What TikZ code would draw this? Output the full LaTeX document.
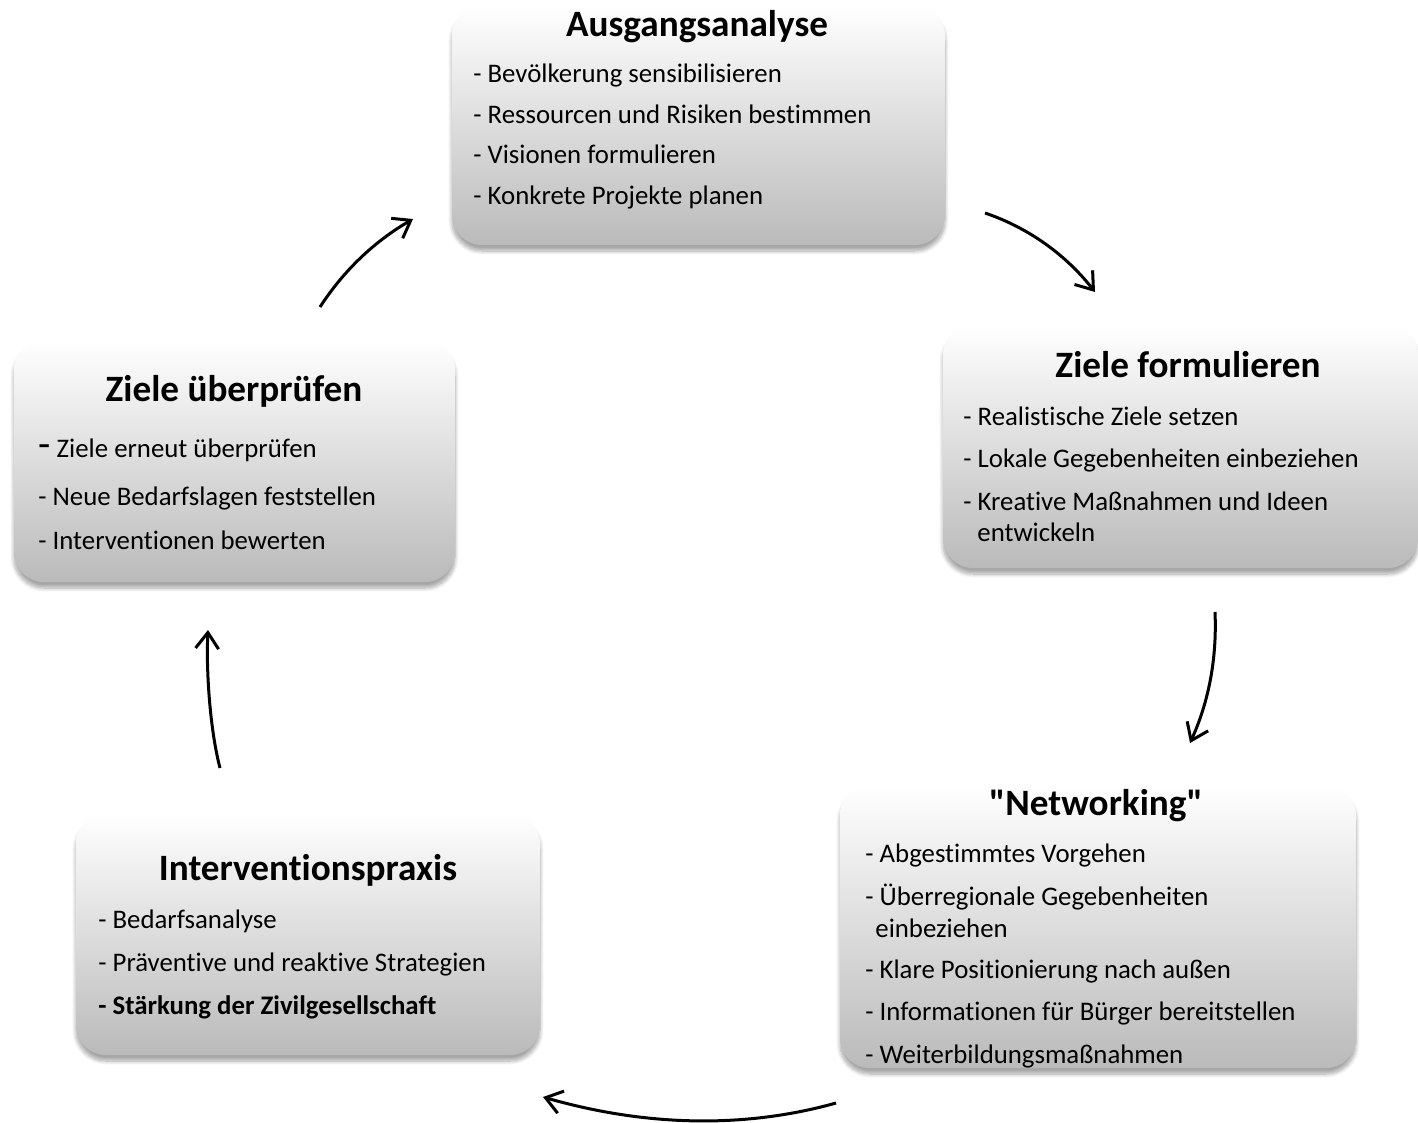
\documentclass[tikz,border=0pt]{standalone}
\usepackage{fontspec}
\setmainfont{Carlito}[Ligatures={TeX,NoCommon}]
\usetikzlibrary{arrows.meta,shadows.blur}

\begin{document}
\begin{tikzpicture}[x=0.5pt,y=-0.5pt,
  phase/.style={rounded corners=15pt,top color=white,bottom color=black!27,
    inner sep=0pt,blur shadow={shadow xshift=0pt,shadow yshift=-3pt,shadow blur steps=8,shadow opacity=35}},
  phasetitle/.style={anchor=base,inner sep=0pt,font=\fontsize{18.6}{22}\selectfont\bfseries},
  entry/.style={anchor=base west,inner sep=0pt,font=\fontsize{13.4}{16}\selectfont},
  cyclearrow/.style={line width=1.5pt,-{Straight Barb[length=8pt,width=11.5pt,line width=1.5pt]}}]
\useasboundingbox (0,0) rectangle (1418,1123);
% boxes
\node[phase,minimum width=246.5pt,minimum height=120pt] (aus) at (698.5,125) {};
\node[phase,minimum width=237.5pt,minimum height=121.5pt] (zf) at (1180.5,446.5) {};
\node[phase,minimum width=258pt,minimum height=141.5pt] (net) at (1098,926.5) {};
\node[phase,minimum width=232pt,minimum height=121pt] (ip) at (308,934) {};
\node[phase,minimum width=220.5pt,minimum height=121pt] (zu) at (234.5,461) {};
% Ausgangsanalyse
\node[phasetitle] (austitle) at (697,37) {Ausgangsanalyse};
\node[entry] (aus1) at (473,83) {- Bevölkerung sensibilisieren};
\node[entry] (aus2) at (473,124) {- Ressourcen und Risiken bestimmen};
\node[entry] (aus3) at (473,164) {- Visionen formulieren};
\node[entry] (aus4) at (473,205) {- Konkrete Projekte planen};
% Ziele formulieren
\node[phasetitle] (zftitle) at (1188,377) {Ziele formulieren};
\node[entry] (zf1) at (963,425) {- Realistische Ziele setzen};
\node[entry] (zf2) at (963,467) {- Lokale Gegebenheiten einbeziehen};
\node[entry] (zf3) at (963,510) {- Kreative Maßnahmen und Ideen};
\node[entry] (zf4) at (977,541) {entwickeln};
% Networking
\node[phasetitle] (nettitle) at (1096,815) {\textquotedbl Networking\textquotedbl};
\node[entry] (net1) at (865,862) {- Abgestimmtes Vorgehen};
\node[entry] (net2) at (865,905) {- Überregionale Gegebenheiten};
\node[entry] (net3) at (875,937) {einbeziehen};
\node[entry] (net4) at (865,978) {- Klare Positionierung nach außen};
\node[entry] (net5) at (865,1020) {- Informationen für Bürger bereitstellen};
\node[entry] (net6) at (865,1063) {- Weiterbildungsmaßnahmen};
% Interventionspraxis
\node[phasetitle] (iptitle) at (308,880) {Interventionspraxis};
\node[entry] (ip1) at (98,928) {- Bedarfsanalyse};
\node[entry] (ip2) at (98,971) {- Präventive und reaktive Strategien};
\node[entry,font=\fontsize{13.4}{16}\selectfont\bfseries] (ip3) at (98,1014) {- Stärkung der Zivilgesellschaft};
% Ziele ueberpruefen
\node[phasetitle] (zutitle) at (234,401) {Ziele überprüfen};
\node[entry] (zu1) at (38,457) {{\fontsize{20}{20}\selectfont -} Ziele erneut überprüfen};
\node[entry] (zu2) at (38,505) {- Neue Bedarfslagen feststellen};
\node[entry] (zu3) at (38,549) {- Interventionen bewerten};
% arrows
\coordinate (a1s) at (320,307);
\coordinate (a1e) at (413,219);
\coordinate (a2s) at (985,213);
\coordinate (a2e) at (1095,292);
\coordinate (a3s) at (1215,612);
\coordinate (a3e) at (1190,743);
\coordinate (a4s) at (836,1103);
\coordinate (a4e) at (543,1097);
\coordinate (a5s) at (220,768);
\coordinate (a5e) at (208,630);
\draw[cyclearrow] (a1s) .. controls (344,270) and (375,241) .. (a1e);
\draw[cyclearrow] (a2s) .. controls (1029,228) and (1066,255) .. (a2e);
\draw[cyclearrow] (a3s) .. controls (1217,658) and (1209,701) .. (a3e);
\draw[cyclearrow] (a4s) .. controls (740,1130) and (640,1125) .. (a4e);
\draw[cyclearrow] (a5s) .. controls (210,730) and (206,670) .. (a5e);
\end{tikzpicture}
\end{document}
